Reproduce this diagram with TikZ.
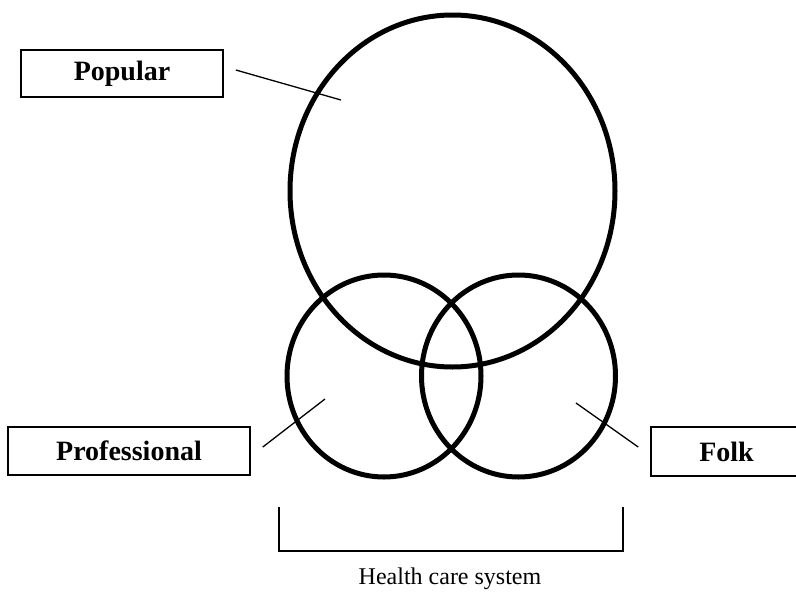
\documentclass[tikz,border=0pt]{standalone}
\usepackage{fontspec}
\setmainfont{Liberation Serif}
\usetikzlibrary{shapes.geometric}
\tikzset{
	sector/.style={draw,ellipse,line width=5pt,inner sep=0pt},
	tagbox/.style={draw,line width=1.6pt,inner sep=0pt,font=\fontsize{28}{30}\selectfont\bfseries},
	leader/.style={line width=1.3pt},
}
\begin{document}
\begin{tikzpicture}[x=1pt,y=-1pt]
				\useasboundingbox (0,0) rectangle (796,592);
				%
				\node[sector,minimum width=325pt,minimum height=352pt] (pop) at (452.5,191) {};
				\node[sector,minimum width=194pt,minimum height=202pt] (prof) at (384,376) {};
				\node[sector,minimum width=194pt,minimum height=202pt] (folk) at (518.5,376) {};
				%
				\node[tagbox,minimum width=202pt,minimum height=47pt] (poptag) at (122,73.5) {Popular};
				\node[tagbox,minimum width=242pt,minimum height=48pt] (proftag) at (129,451) {Professional};
				\node[tagbox,minimum width=151pt,minimum height=49pt] (folktag) at (726.5,451.5) {Folk};
				%
				\coordinate (popin) at (341,100);
				\coordinate (profin) at (325,399);
				\coordinate (folkin) at (576,403);
				\draw[leader] ([shift={(12,-3.5)}]poptag.east) -- (popin);
				\draw[leader] ([shift={(12,-4)}]proftag.east) -- (profin);
				\draw[leader] ([shift={(-12,-4.5)}]folktag.west) -- (folkin);
				%
				\coordinate (bl) at (279,507);
				\coordinate (br) at (623,507);
				\draw[line width=1.5pt] (bl) -- ++(0,44) -| (br);
				\node[font=\fontsize{24}{26}\selectfont] (hcs) at (450,579) {Health care system};
			\end{tikzpicture}
\end{document}
